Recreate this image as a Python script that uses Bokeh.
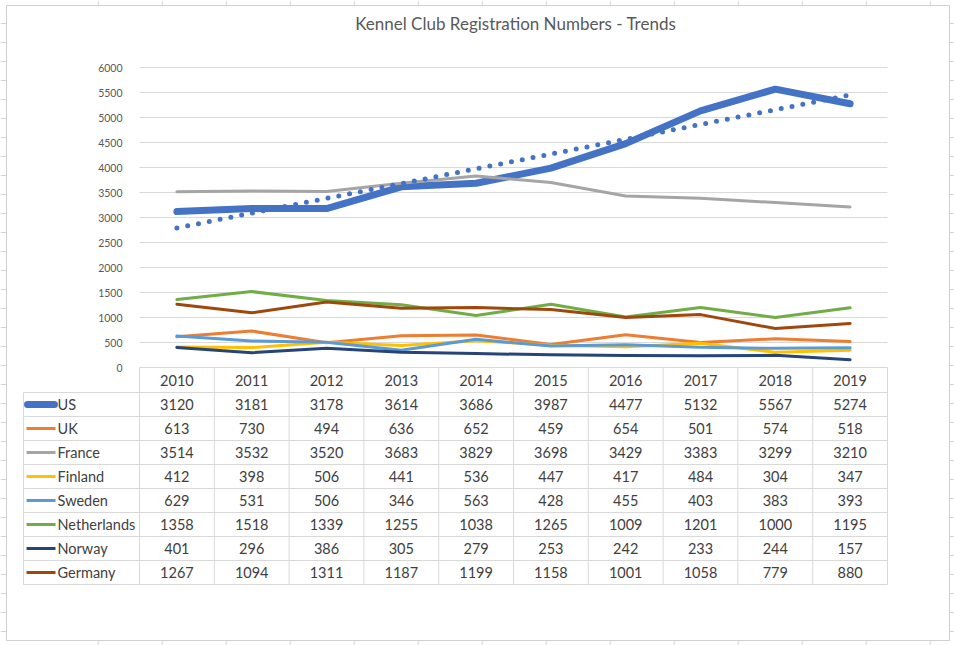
import numpy as np
from bokeh.plotting import figure
from bokeh.models import Range1d, FixedTicker, LinearAxis
from bokeh.core.properties import value
from bokeh.embed import file_html
from bokeh.resources import INLINE

# ---------------- data ----------------
years = ["2010", "2011", "2012", "2013", "2014", "2015", "2016", "2017", "2018", "2019"]
countries = ["US", "UK", "France", "Finland", "Sweden", "Netherlands", "Norway", "Germany"]
us = [3120, 3181, 3178, 3614, 3686, 3987, 4477, 5132, 5567, 5274]
uk = [613, 730, 494, 636, 652, 459, 654, 501, 574, 518]
france = [3514, 3532, 3520, 3683, 3829, 3698, 3429, 3383, 3299, 3210]
finland = [412, 398, 506, 441, 536, 447, 417, 484, 304, 347]
sweden = [629, 531, 506, 346, 563, 428, 455, 403, 383, 393]
netherlands = [1358, 1518, 1339, 1255, 1038, 1265, 1009, 1201, 1000, 1195]
norway = [401, 296, 386, 305, 279, 253, 242, 233, 244, 157]
germany = [1267, 1094, 1311, 1187, 1199, 1158, 1001, 1058, 779, 880]
y_ticks = [0, 500, 1000, 1500, 2000, 2500, 3000, 3500, 4000, 4500, 5000, 5500, 6000]
title_text = "Kennel Club Registration Numbers - Trends"

series = [us, uk, france, finland, sweden, netherlands, norway, germany]
colors = ["#4472C4", "#ED7D31", "#A5A5A5", "#FFC000", "#5B9BD5", "#70AD47", "#264478", "#9E480E"]
widths = [7, 3, 3, 3, 3, 3, 3, 3]

FONT = value("Lato")
TXT = "#404040"
GRID = "#D9D9D9"

# layout constants: one x unit = one year column (74.8 px), one y unit = 1/20 px
PX = 1 / 74.8            # one pixel in x units
PY = 20                  # one pixel in y units
LABEL_W = 1.551          # width of the label column, in column units
HEAD_H = 500             # header row height (value units)
ROW_H = 480              # table row height (value units)

p = figure(width=954, height=645,
           x_range=Range1d(-139 * PX, 815 * PX), y_range=Range1d(-278 * PY, 367 * PY),
           output_backend="svg", toolbar_location=None,
           x_axis_location=None, y_axis_location=None, min_border=0)
p.outline_line_color = None
p.grid.visible = False

ncol = len(years)
xc = [i + 0.5 for i in range(ncol)]

# spreadsheet cell lines peeking around the chart object
sheet_cols = [(97.7 + 64 * k - 139) * PX for k in range(14)]
sheet_rows = [(367 - (23 + 19 * k)) * PY for k in range(33)]
top_y0, top_y1 = 367 * PY, 362 * PY
bot_y0, bot_y1 = -273 * PY, -278 * PY
p.segment(x0=sheet_cols, x1=sheet_cols, y0=[top_y0] * 14, y1=[top_y1] * 14, line_color="#D4D4D4")
p.segment(x0=sheet_cols, x1=sheet_cols, y0=[bot_y0] * 14, y1=[bot_y1] * 14, line_color="#D4D4D4")
p.segment(x0=[-139 * PX] * 33, x1=[-133 * PX] * 33, y0=sheet_rows, y1=sheet_rows, line_color="#D4D4D4")
p.segment(x0=[810 * PX] * 33, x1=[815 * PX] * 33, y0=sheet_rows, y1=sheet_rows, line_color="#D4D4D4")
# chart object border
p.quad(left=[-133 * PX], right=[810 * PX], bottom=[-273 * PY], top=[362 * PY],
       fill_color="white", line_color="#D0D0D0", line_width=1)

# y axis pinned at the left edge of the plot area
yax = LinearAxis(fixed_location=0, ticker=FixedTicker(ticks=y_ticks), bounds=(0, 6000))
yax.axis_line_color = None
yax.major_tick_line_color = None
yax.minor_tick_line_color = None
yax.major_label_standoff = 11
yax.major_label_text_font = "Lato"
yax.major_label_text_font_size = "10.5px"
yax.major_label_text_color = "#595959"
p.add_layout(yax, "left")

# horizontal gridlines over the plot area only
p.segment(x0=[0] * len(y_ticks), x1=[ncol] * len(y_ticks), y0=y_ticks, y1=y_ticks,
          line_color=GRID, line_width=1)

# title
p.text(x=[ncol / 2 + 0.03], y=[344 * PY], text=[title_text], text_align="center",
       text_baseline="middle", text_font=FONT, text_font_size="17px", text_color="#595959")

# series
for vals, c, w in zip(series, colors, widths):
    p.line(xc, vals, line_color=c, line_width=w, line_join="round", line_cap="round")

# linear trendline for US (as Excel does)
xi = np.arange(ncol)
slope, intercept = np.polyfit(xi, us, 1)
trend = list(slope * xi + intercept)
p.line(xc, trend, line_color="#4472C4", line_width=5, line_dash="0 11", line_cap="round")

# ---------------- data table ----------------
nser = len(countries)
bounds_y = [0, -HEAD_H] + [-HEAD_H - ROW_H * (i + 1) for i in range(nser)]
bottom = bounds_y[-1]
hy = bounds_y[1:]
p.segment(x0=[-LABEL_W] * len(hy), x1=[ncol] * len(hy), y0=hy, y1=hy, line_color=GRID, line_width=1)
vx = [-LABEL_W] + list(range(ncol + 1))
vy0 = [-HEAD_H] + [0] * (ncol + 1)
p.segment(x0=vx, x1=vx, y0=vy0, y1=[bottom] * len(vx), line_color=GRID, line_width=1)

# header
p.text(x=xc, y=[-HEAD_H / 2] * ncol, text=years, text_align="center", text_baseline="middle",
       text_font=FONT, text_font_size="14.5px", text_color=TXT)

# legend keys + labels
rows = [-HEAD_H - ROW_H * i - ROW_H / 2 for i in range(nser)]
p.segment(x0=[-1.497], x1=[-1.137], y0=[rows[0]], y1=[rows[0]], line_color=colors[0],
          line_width=7, line_cap="round")
p.segment(x0=[-1.51] * (nser - 1), x1=[-1.123] * (nser - 1), y0=rows[1:], y1=rows[1:],
          line_color=colors[1:], line_width=3)
p.text(x=[-1.096] * nser, y=rows, text=countries, text_align="left", text_baseline="middle",
       text_font=FONT, text_font_size="14.5px", text_color=TXT)

# numbers
cx, cy, ct = [], [], []
for i, vals in enumerate(series):
    for j, v in enumerate(vals):
        cx.append(xc[j]); cy.append(rows[i]); ct.append(str(v))
p.text(x=cx, y=cy, text=ct, text_align="center", text_baseline="middle",
       text_font=FONT, text_font_size="14.5px", text_color=TXT)

open("out.html", "w").write(file_html(p, INLINE))
